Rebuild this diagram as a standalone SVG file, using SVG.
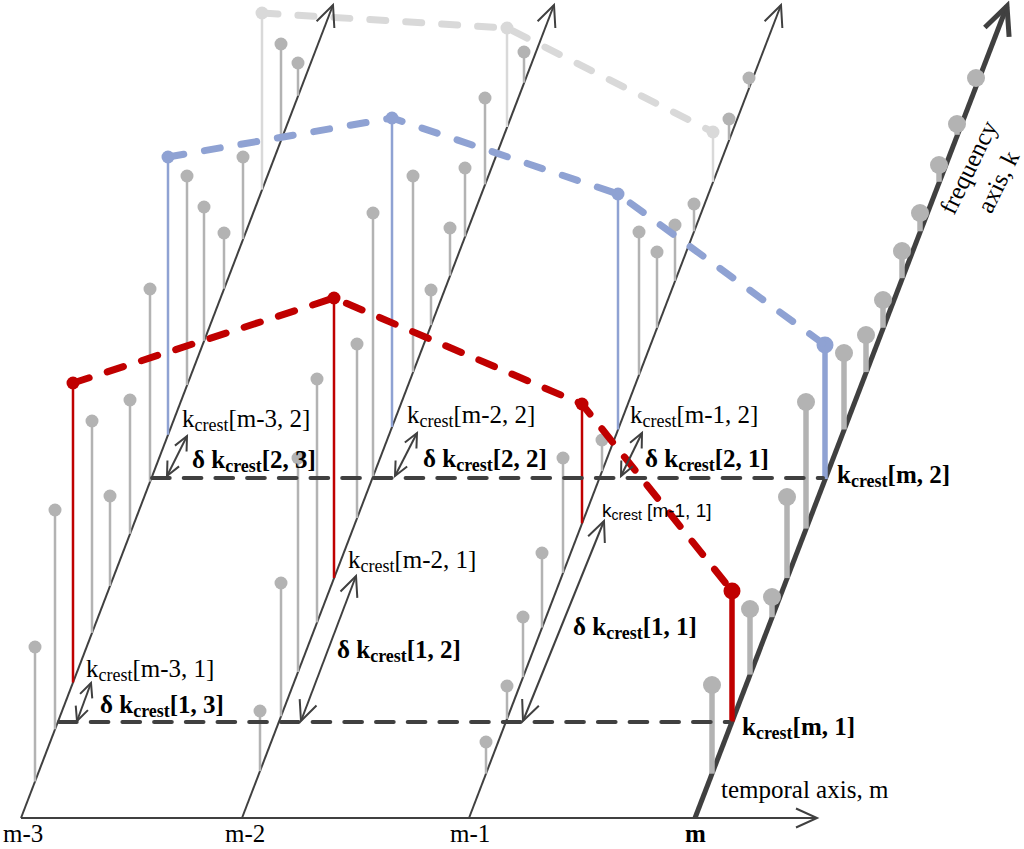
<svg xmlns="http://www.w3.org/2000/svg" width="1024" height="849" viewBox="0 0 1024 849">
<style>
.ax{stroke:#404040;stroke-width:2;fill:none}
.axT{stroke:#404040;stroke-width:5;fill:none}
.st{stroke:#b3b3b3;stroke-width:2.5}
.stT{stroke:#b3b3b3;stroke-width:5.5}
.dot{fill:#b3b3b3}
.lt{stroke:#d9d9d9;stroke-width:2.5}
.ltdot{fill:#d9d9d9}
.bl{stroke:#8fa2d3;stroke-width:2.5}
.blT{stroke:#8fa2d3;stroke-width:5.5}
.bldot{fill:#8fa2d3}
.rd{stroke:#c00000;stroke-width:2.5}
.rdT{stroke:#c00000;stroke-width:5.5}
.rddot{fill:#c00000}
.hd{stroke:#404040;stroke-width:4;fill:none;stroke-dasharray:17.7 14;stroke-linecap:round}
.crest{fill:none;stroke-width:7;stroke-linecap:round}
.t{font-family:"Liberation Serif","Times New Roman",serif;font-size:25px;fill:#000}
.b{font-weight:bold}
.sub{font-size:18px}
.sans{font-family:"Liberation Sans",Arial,sans-serif}
.d{stroke:#404040;stroke-width:2;fill:none}
</style>
<defs>
<marker id="ahAx" markerUnits="userSpaceOnUse" viewBox="-26 -14 30 28" markerWidth="30" markerHeight="28" refX="0" refY="0" orient="auto"><path d="M-21,-9.5 L0,0 L-21,9.5" fill="none" stroke="#404040" stroke-width="2"/></marker>
<marker id="ahT" markerUnits="userSpaceOnUse" viewBox="-36 -20 42 40" markerWidth="42" markerHeight="40" refX="0" refY="0" orient="auto"><path d="M-28,-13 L0,0 L-28,13" fill="none" stroke="#404040" stroke-width="5" stroke-linejoin="miter"/></marker>
<marker id="ahS" markerUnits="userSpaceOnUse" viewBox="-20 -10 24 20" markerWidth="24" markerHeight="20" refX="0" refY="0" orient="auto-start-reverse"><path d="M-14,-6.5 L0,0 L-14,6.5" fill="none" stroke="#404040" stroke-width="2"/></marker>
<marker id="ahL" markerUnits="userSpaceOnUse" viewBox="-26 -12 30 24" markerWidth="30" markerHeight="24" refX="0" refY="0" orient="auto-start-reverse"><path d="M-20,-9 L0,0 L-20,9" fill="none" stroke="#404040" stroke-width="2"/></marker>
</defs>
<rect width="1024" height="849" fill="#fff"/>

<g id="crest-k3">
<polyline class="crest" stroke="#d9d9d9" stroke-dasharray="16 20" points="262,13 507,28 713,132"/>
</g>

<g id="axes">
<line class="ax" x1="21" y1="818" x2="817" y2="818" marker-end="url(#ahAx)"/>
<line class="ax" x1="21" y1="818" x2="333" y2="5" marker-end="url(#ahAx)"/>
<line class="ax" x1="242" y1="818" x2="554" y2="5" marker-end="url(#ahAx)"/>
<line class="ax" x1="469" y1="818" x2="781" y2="5" marker-end="url(#ahAx)"/>
<line class="axT" x1="695" y1="818" x2="1007" y2="6" marker-end="url(#ahT)"/>
</g>

<g id="frame-m-3">
<line class="st" x1="35" y1="647" x2="35" y2="781.5"/><circle class="dot" cx="35" cy="647" r="6.5"/>
<line class="st" x1="55" y1="510" x2="55" y2="729.3"/><circle class="dot" cx="55" cy="510" r="6.5"/>
<line class="rd" x1="73" y1="383" x2="73" y2="682.4"/><circle class="rddot" cx="73" cy="383" r="6.5"/>
<line class="st" x1="92" y1="421" x2="92" y2="632.9"/><circle class="dot" cx="92" cy="421" r="6.5"/>
<line class="st" x1="110" y1="496" x2="110" y2="585.9"/><circle class="dot" cx="110" cy="496" r="6.5"/>
<line class="st" x1="130" y1="400" x2="130" y2="533.8"/><circle class="dot" cx="130" cy="400" r="6.5"/>
<line class="st" x1="150" y1="289" x2="150" y2="481.6"/><circle class="dot" cx="150" cy="289" r="6.5"/>
<line class="bl" x1="168" y1="157" x2="168" y2="434.7"/><circle class="bldot" cx="168" cy="157" r="6.5"/>
<line class="st" x1="187" y1="176" x2="187" y2="385.1"/><circle class="dot" cx="187" cy="176" r="6.5"/>
<line class="st" x1="204" y1="207" x2="204" y2="340.8"/><circle class="dot" cx="204" cy="207" r="6.5"/>
<line class="st" x1="224" y1="233" x2="224" y2="288.7"/><circle class="dot" cx="224" cy="233" r="6.5"/>
<line class="st" x1="243" y1="157" x2="243" y2="239.1"/><circle class="dot" cx="243" cy="157" r="6.5"/>
<line class="lt" x1="262" y1="13" x2="262" y2="189.6"/><circle class="ltdot" cx="262" cy="13" r="6.5"/>
<line class="st" x1="281" y1="44" x2="281" y2="140"/><circle class="dot" cx="281" cy="44" r="6.5"/>
<line class="st" x1="298" y1="63" x2="298" y2="95.7"/><circle class="dot" cx="298" cy="63" r="6.5"/>
</g>

<g id="frame-m-2">
<line class="st" x1="260" y1="711" x2="260" y2="771.1"/><circle class="dot" cx="260" cy="711" r="6.5"/>
<line class="st" x1="281" y1="583" x2="281" y2="716.3"/><circle class="dot" cx="281" cy="583" r="6.5"/>
<line class="st" x1="298" y1="458" x2="298" y2="672"/><circle class="dot" cx="298" cy="458" r="6.5"/>
<line class="st" x1="317" y1="379" x2="317" y2="622.4"/><circle class="dot" cx="317" cy="379" r="6.5"/>
<line class="rd" x1="334" y1="298" x2="334" y2="578.1"/><circle class="rddot" cx="334" cy="298" r="6.5"/>
<line class="st" x1="357" y1="344" x2="357" y2="518.1"/><circle class="dot" cx="357" cy="344" r="6.5"/>
<line class="st" x1="373" y1="213" x2="373" y2="476.4"/><circle class="dot" cx="373" cy="213" r="6.5"/>
<line class="bl" x1="392" y1="118" x2="392" y2="426.9"/><circle class="bldot" cx="392" cy="118" r="6.5"/>
<line class="st" x1="413" y1="176" x2="413" y2="372.1"/><circle class="dot" cx="413" cy="176" r="6.5"/>
<line class="st" x1="431" y1="290" x2="431" y2="325.2"/><circle class="dot" cx="431" cy="290" r="6.5"/>
<line class="st" x1="450" y1="228" x2="450" y2="275.6"/><circle class="dot" cx="450" cy="228" r="6.5"/>
<line class="st" x1="465" y1="168" x2="465" y2="236.5"/><circle class="dot" cx="465" cy="168" r="6.5"/>
<line class="st" x1="485" y1="98" x2="485" y2="184.4"/><circle class="dot" cx="485" cy="98" r="6.5"/>
<line class="lt" x1="507" y1="28" x2="507" y2="127"/><circle class="ltdot" cx="507" cy="28" r="6.5"/>
<line class="st" x1="524" y1="52" x2="524" y2="82.7"/><circle class="dot" cx="524" cy="52" r="6.5"/>
</g>

<g id="frame-m-1">
<line class="st" x1="486" y1="742" x2="486" y2="773.7"/><circle class="dot" cx="486" cy="742" r="6.5"/>
<line class="st" x1="507" y1="686" x2="507" y2="718.9"/><circle class="dot" cx="507" cy="686" r="6.5"/>
<line class="st" x1="523" y1="617" x2="523" y2="677.2"/><circle class="dot" cx="523" cy="617" r="6.5"/>
<line class="st" x1="542" y1="553" x2="542" y2="627.6"/><circle class="dot" cx="542" cy="553" r="6.5"/>
<line class="st" x1="563" y1="458" x2="563" y2="572.9"/><circle class="dot" cx="563" cy="458" r="6.5"/>
<line class="rd" x1="582" y1="404" x2="582" y2="523.3"/><circle class="rddot" cx="582" cy="404" r="6.5"/>
<line class="st" x1="602" y1="440" x2="602" y2="471.2"/><circle class="dot" cx="602" cy="440" r="6.5"/>
<line class="bl" x1="618" y1="194" x2="618" y2="429.5"/><circle class="bldot" cx="618" cy="194" r="6.5"/>
<line class="st" x1="639" y1="232" x2="639" y2="374.7"/><circle class="dot" cx="639" cy="232" r="6.5"/>
<line class="st" x1="657" y1="252" x2="657" y2="327.8"/><circle class="dot" cx="657" cy="252" r="6.5"/>
<line class="st" x1="675" y1="225" x2="675" y2="280.8"/><circle class="dot" cx="675" cy="225" r="6.5"/>
<line class="st" x1="694" y1="204" x2="694" y2="231.3"/><circle class="dot" cx="694" cy="204" r="6.5"/>
<line class="lt" x1="713" y1="132" x2="713" y2="181.8"/><circle class="ltdot" cx="713" cy="132" r="6.5"/>
<line class="st" x1="729" y1="119" x2="729" y2="140"/><circle class="dot" cx="729" cy="119" r="6.5"/>
<line class="st" x1="749" y1="78" x2="749" y2="87.9"/><circle class="dot" cx="749" cy="78" r="6.5"/>
</g>

<g id="frame-m">
<line class="stT" x1="712" y1="685" x2="712" y2="773.7"/><circle class="dot" cx="712" cy="685" r="9"/>
<line class="rdT" x1="732" y1="591" x2="732" y2="721.5"/><circle class="rddot" cx="732" cy="591" r="8.5"/>
<line class="stT" x1="750" y1="609" x2="750" y2="674.6"/><circle class="dot" cx="750" cy="609" r="9"/>
<line class="stT" x1="772" y1="597" x2="772" y2="617.2"/><circle class="dot" cx="772" cy="597" r="9"/>
<line class="stT" x1="787" y1="497" x2="787" y2="578.1"/><circle class="dot" cx="787" cy="497" r="9"/>
<line class="stT" x1="806" y1="402" x2="806" y2="528.6"/><circle class="dot" cx="806" cy="402" r="9"/>
<line class="blT" x1="825" y1="345" x2="825" y2="479"/><circle class="bldot" cx="825" cy="345" r="8.5"/>
<line class="stT" x1="844" y1="353" x2="844" y2="429.5"/><circle class="dot" cx="844" cy="353" r="9"/>
<line class="stT" x1="866" y1="335" x2="866" y2="372.1"/><circle class="dot" cx="866" cy="335" r="9"/>
<line class="stT" x1="883" y1="300" x2="883" y2="327.8"/><circle class="dot" cx="883" cy="300" r="9"/>
<line class="stT" x1="902" y1="251" x2="902" y2="278.2"/><circle class="dot" cx="902" cy="251" r="9"/>
<line class="stT" x1="920" y1="213" x2="920" y2="231.3"/><circle class="dot" cx="920" cy="213" r="9"/>
<line class="stT" x1="939" y1="165" x2="939" y2="181.8"/><circle class="dot" cx="939" cy="165" r="9"/>
<line class="stT" x1="957" y1="124" x2="957" y2="134.8"/><circle class="dot" cx="957" cy="124" r="9"/>
<line class="stT" x1="976" y1="78" x2="976" y2="85.3"/><circle class="dot" cx="976" cy="78" r="9"/>
</g>

<g id="connectors">
<line class="hd" x1="152" y1="478" x2="823" y2="478"/>
<line class="hd" x1="59" y1="722" x2="729" y2="722"/>
<polyline class="crest" stroke="#8fa2d3" stroke-dasharray="16 21" points="168,157 392,118 618,194 825,345"/>
<polyline class="crest" stroke="#c00000" stroke-dasharray="17 19" points="73,383 334,298 582,404 732,591"/>
<line class="d" x1="167" y1="476" x2="187" y2="436" marker-start="url(#ahS)" marker-end="url(#ahS)"/>
<line class="d" x1="395" y1="476" x2="417" y2="433" marker-start="url(#ahS)" marker-end="url(#ahS)"/>
<line class="d" x1="621" y1="476" x2="642" y2="433" marker-start="url(#ahS)" marker-end="url(#ahS)"/>
<line class="d" x1="77" y1="721" x2="91" y2="683" marker-start="url(#ahS)" marker-end="url(#ahS)"/>
<line class="d" x1="301" y1="721" x2="356" y2="576" marker-start="url(#ahL)" marker-end="url(#ahL)"/>
<line class="d" x1="523" y1="721" x2="604" y2="521" marker-start="url(#ahL)" marker-end="url(#ahL)"/>
</g>

<g id="labels">
<text class="t" x="182" y="427">k<tspan class="sub" dy="4">crest</tspan><tspan dy="-4">[m-3, 2]</tspan></text>
<text class="t b" x="192" y="468">δ k<tspan class="sub" dy="4">crest</tspan><tspan dy="-4">[2, 3]</tspan></text>
<text class="t" x="407" y="423">k<tspan class="sub" dy="4">crest</tspan><tspan dy="-4">[m-2, 2]</tspan></text>
<text class="t b" x="423" y="467">δ k<tspan class="sub" dy="4">crest</tspan><tspan dy="-4">[2, 2]</tspan></text>
<text class="t" x="630" y="423">k<tspan class="sub" dy="4">crest</tspan><tspan dy="-4">[m-1, 2]</tspan></text>
<text class="t b" x="645" y="467">δ k<tspan class="sub" dy="4">crest</tspan><tspan dy="-4">[2, 1]</tspan></text>
<text class="t b" x="837" y="483">k<tspan class="sub" dy="4">crest</tspan><tspan dy="-4">[m, 2]</tspan></text>
<text class="sans" x="602" y="517" font-size="19">k<tspan font-size="14" dy="3">crest</tspan><tspan dy="-3"> [m-1, 1]</tspan></text>
<text class="t" x="348" y="568">k<tspan class="sub" dy="4">crest</tspan><tspan dy="-4">[m-2, 1]</tspan></text>
<text class="t b" x="337" y="658">δ k<tspan class="sub" dy="4">crest</tspan><tspan dy="-4">[1, 2]</tspan></text>
<text class="t b" x="573" y="635">δ k<tspan class="sub" dy="4">crest</tspan><tspan dy="-4">[1, 1]</tspan></text>
<text class="t" x="86" y="677">k<tspan class="sub" dy="4">crest</tspan><tspan dy="-4">[m-3, 1]</tspan></text>
<text class="t b" x="100" y="713">δ k<tspan class="sub" dy="4">crest</tspan><tspan dy="-4">[1, 3]</tspan></text>
<text class="t b" x="742" y="735">k<tspan class="sub" dy="4">crest</tspan><tspan dy="-4">[m, 1]</tspan></text>
<text class="t" x="721" y="798" font-size="27.5">temporal axis, m</text>
<text class="t" x="3" y="842" font-size="25">m-3</text>
<text class="t" x="225" y="842" font-size="25">m-2</text>
<text class="t" x="450" y="842" font-size="25">m-1</text>
<text class="t b" x="685" y="842" font-size="25">m</text>
<g transform="translate(976,171) rotate(-64)">
<text class="t" x="0" y="0" font-size="28" text-anchor="middle">frequency</text>
<text class="t" x="0" y="33" font-size="28" text-anchor="middle">axis, k</text>
</g>
</g>
</svg>
